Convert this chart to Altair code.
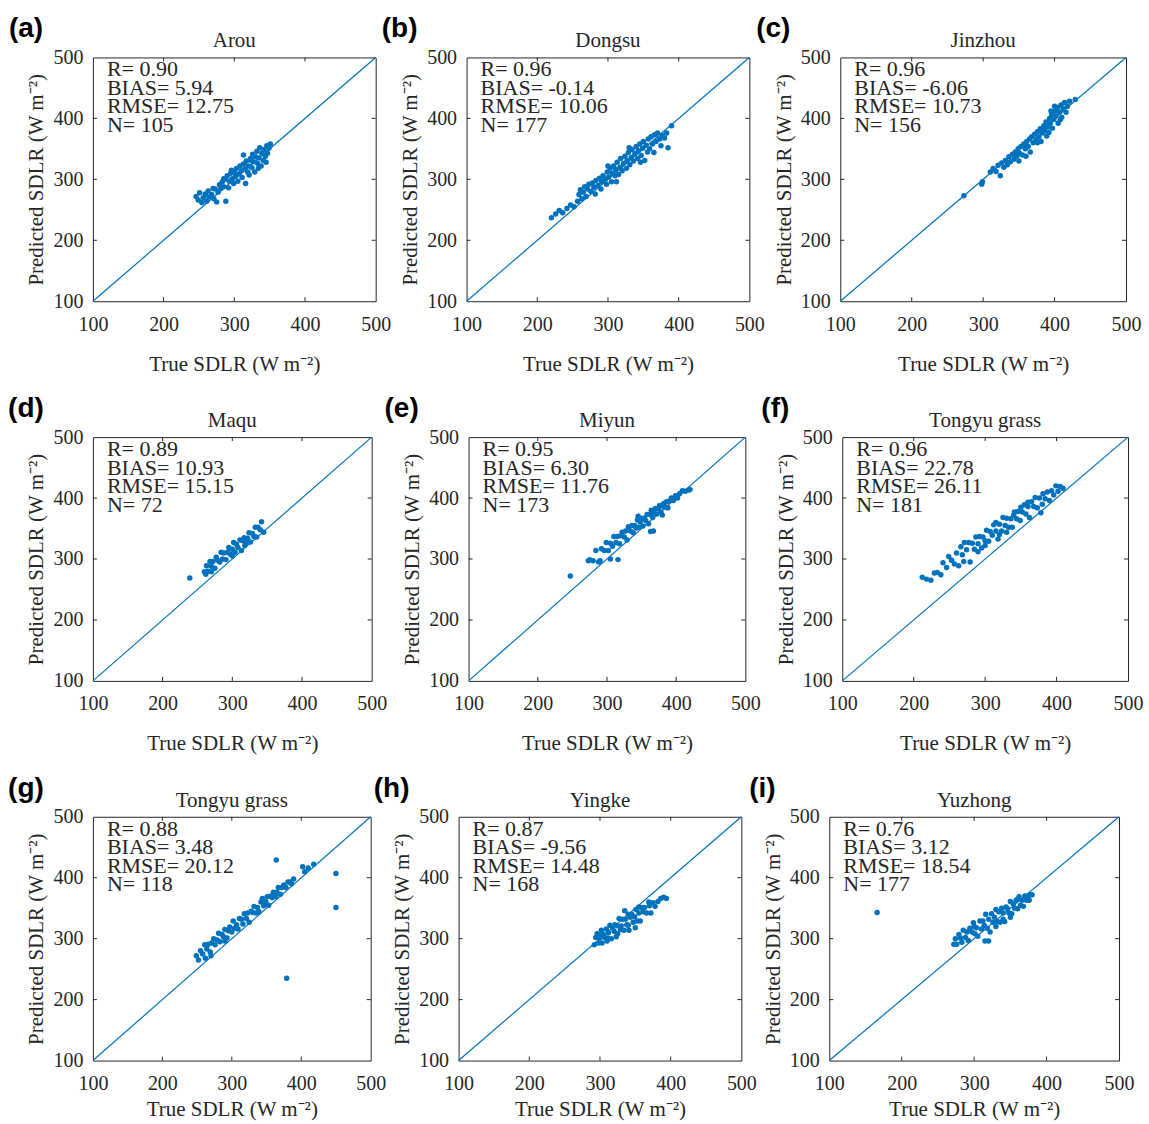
import altair as alt
import pandas as pd

BLUE = "#0072BD"
INK = "#262626"
SERIF = "Liberation Serif"

names = ["Arou", "Dongsu", "Jinzhou", "Maqu", "Miyun", "Tongyu grass",
         "Tongyu grass", "Yingke", "Yuzhong"]
letters = ["(a)", "(b)", "(c)", "(d)", "(e)", "(f)", "(g)", "(h)", "(i)"]
r_vals = ["0.90", "0.96", "0.96", "0.89", "0.95", "0.96", "0.88", "0.87", "0.76"]
bias_vals = ["5.94", "-0.14", "-6.06", "10.93", "6.30", "22.78", "3.48", "-9.56", "3.12"]
rmse_vals = ["12.75", "10.06", "10.73", "15.15", "11.76", "26.11", "20.12", "14.48", "18.54"]
n_vals = ["105", "177", "156", "72", "173", "181", "118", "168", "177"]
ticks = [100, 200, 300, 400, 500]
inner_ticks = [200, 300, 400]
one_to_one = [100, 500]

pts_a = [(246,272),(249,266),(251,278),(254,262),(256,270),(259,276),(261,264),(263,281),(264,271),(268,275),
         (271,268),(273,284),(275,263),(277,279),(279,291),(281,285),(283,296),(285,288),(288,264),(287,300),
         (290,306),(292,286),(293,297),(295,310),(297,301),(299,293),(300,312),(302,305),(303,318),(305,297),
         (307,309),(308,322),(310,314),(311,303),(313,325),(315,317),(316,293),(317,330),(319,312),(320,322),
         (321,307),(323,334),(325,319),(326,341),(327,329),(329,312),(330,337),(332,346),(333,326),(335,335),
         (336,352),(338,322),(339,343),(341,331),(342,349),(344,338),(346,355),(347,343),(349,351),(351,358),
         (334,318),(324,331),(313,340),(296,315),(285,301),(270,285),(345,328)]
pts_b = [(220,237),(226,243),(231,249),(236,245),(242,252),(247,258),(252,255),(257,264),(259,275),(261,283),
         (263,268),(265,279),(267,288),(269,272),(271,284),(273,292),(276,280),(278,294),(280,287),(282,276),
         (283,298),(286,290),(288,302),(290,284),(291,296),(293,306),(296,300),(298,292),(299,312),(301,304),
         (303,318),(305,296),(306,310),(308,322),(310,306),(311,316),(313,328),(315,308),(317,320),(318,334),
         (320,314),(322,326),(324,338),(326,318),(327,331),(329,344),(331,324),(333,336),(334,349),(336,330),
         (338,342),(340,354),(342,334),(343,347),(345,358),(347,339),(349,351),(350,362),(352,331),(354,356),
         (356,345),(357,366),(359,350),(361,370),(363,358),(365,344),(366,373),(368,362),(370,376),(373,366),
         (375,355),(377,372),(380,368),(383,376),(385,352),(390,388),(300,322),(312,296),(330,352),(346,328)]
pts_c = [(273,273),(298,292),(299,296),(310,312),(314,318),(318,313),(321,323),(324,306),(326,327),(329,320),
         (331,331),(334,324),(336,337),(338,329),(341,341),(343,333),(345,345),(347,338),(349,350),(351,343),
         (353,354),(355,340),(357,358),(359,350),(361,362),(363,354),(365,366),(366,345),(368,370),(370,360),
         (372,374),(374,365),(376,378),(378,370),(380,383),(381,362),(383,376),(385,388),(386,380),(388,394),
         (389,371),(391,386),(393,400),(394,392),(396,406),(397,384),(399,398),(401,412),(402,404),(404,418),
         (405,392),(407,410),(409,422),(410,402),(412,416),(414,426),(416,410),(418,420),(421,428),(429,431),
         (395,412),(400,420),(408,398),(392,377),(360,338),(376,360),(350,330)]
pts_d = [(239,269),(260,279),(263,289),(265,280),(268,296),(270,288),(272,296),(275,285),(277,303),(279,298),
         (282,295),(284,311),(286,300),(288,310),(291,299),(293,311),(295,319),(297,308),(300,316),(302,327),
         (304,311),(306,324),(308,319),(311,331),(313,314),(315,330),(317,335),(320,327),(322,334),(324,343),
         (326,328),(329,342),(331,337),(333,352),(335,336),(337,352),(340,348),(342,361),(345,344),(262,275),
         (270,279),(300,305),(318,322)]
pts_e = [(247,272),(273,297),(280,297),(284,314),(288,295),(292,317),(296,314),(299,327),(302,314),(305,326),
         (308,321),(310,337),(313,327),(315,337),(318,325),(320,338),(322,344),(325,336),(327,346),(329,331),
         (331,353),(334,346),(336,355),(338,343),(340,355),(342,351),(344,364),(346,352),(348,361),(350,367),
         (352,354),(354,367),(356,363),(358,373),(360,358),(362,373),(364,380),(366,368),(368,376),(370,383),
         (372,374),(374,383),(376,388),(378,377),(380,387),(382,391),(384,385),(386,394),(388,384),(390,395),
         (393,400),(396,396),(399,404),(402,400),(405,407),(409,412),(413,411),(418,413),(363,345),(367,346),
         (380,372),(345,370),(275,299),(290,297),(305,300),(316,299),(420,414)]
pts_f = [(212,270),(218,267),(224,265),(229,277),(233,278),(238,274),(241,294),(246,286),(249,304),(253,298),
         (257,292),(260,310),(263,289),(266,320),(268,307),(271,327),(274,315),(277,327),(279,295),(282,326),
         (285,316),(287,336),(290,325),(292,337),(295,318),(297,336),(300,330),(302,347),(305,329),(307,345),
         (310,339),(312,356),(315,346),(318,333),(320,357),(323,346),(325,368),(328,355),(330,367),(333,352),
         (336,366),(338,352),(341,377),(344,366),(346,378),(349,363),(352,377),(355,389),(357,374),(360,386),
         (362,368),(365,394),(368,386),(370,401),(373,384),(376,400),(378,376),(381,407),(384,399),(387,410),
         (390,396),(393,412),(396,405),(399,420),(402,411),(405,419),(409,416),(300,322),(320,340),(340,372),
         (360,393),(380,390),(290,312),(330,344),(350,385),(270,296),(315,360)]
pts_g = [(249,272),(252,265),(255,280),(258,275),(261,290),(264,283),(266,291),(269,278),(271,293),(274,300),
         (276,290),(279,298),(281,309),(283,295),(286,307),(288,303),(290,315),(293,301),(295,313),(297,319),
         (300,311),(302,329),(304,317),(307,323),(309,316),(311,333),(314,332),(316,324),(318,341),(321,333),
         (323,342),(325,327),(328,345),(330,343),(332,353),(335,342),(337,351),(339,344),(342,360),(344,366),
         (346,354),(349,361),(351,369),(353,355),(356,370),(358,367),(360,376),(363,369),(365,376),(367,384),
         (370,373),(372,384),(375,388),(378,384),(381,393),(384,393),(386,390),(389,398),(402,418),(405,410),
         (410,416),(418,422),(364,429),(450,407),(450,351),(379,235),(262,268),(290,296),(270,272)]
pts_h = [(292,290),(294,302),(296,308),(298,293),(300,301),(302,314),(303,293),(305,307),(307,302),(309,316),
         (311,301),(312,310),(314,322),(316,300),(318,318),(320,312),(321,323),(323,303),(325,321),(327,333),
         (329,315),(330,321),(332,332),(334,314),(336,332),(338,323),(340,340),(341,314),(343,335),(345,340),
         (347,327),(349,336),(351,348),(353,329),(355,342),(357,329),(359,351),(361,344),(363,351),(366,342),
         (369,360),(372,342),(375,359),(378,353),(382,361),(386,366),(390,368),(394,366),(310,296),(325,308),
         (340,322),(355,352),(370,354),(300,306),(350,318),(335,346)]
pts_i = [(166,343),(272,291),(274,300),(276,291),(279,307),(281,301),(283,294),(285,314),(288,302),(290,311),
         (292,297),(294,317),(297,311),(299,326),(301,308),(303,318),(305,304),(308,329),(310,316),(312,329),
         (314,322),(316,340),(318,317),(320,332),(322,311),(324,341),(326,327),(328,335),(330,348),(332,328),
         (334,344),(336,327),(338,350),(340,342),(342,328),(344,352),(346,349),(348,342),(350,361),(352,341),
         (354,357),(356,350),(358,363),(360,349),(362,369),(364,355),(366,363),(368,353),(370,370),(372,363),
         (374,370),(376,363),(378,372),(380,372),(315,296),(320,296),(340,332),(360,365),(300,320),(330,320),
         (350,335)]

all_pts = [pts_a, pts_b, pts_c, pts_d, pts_e, pts_f, pts_g, pts_h, pts_i]

XT = "True SDLR (W m\u207b\u00b2)"
YT = "Predicted SDLR (W m\u207b\u00b2)"


def panel(i, w, h, xtitle_pad):
    df = pd.DataFrame(all_pts[i], columns=["true", "pred"])
    xs = alt.Scale(domain=[100, 500], nice=False, zero=False)
    ys = alt.Scale(domain=[100, 500], nice=False, zero=False)
    xax = alt.Axis(values=ticks, title=XT, labelPadding=13, titlePadding=xtitle_pad,
                   labelFlush=False)
    yax = alt.Axis(values=ticks, title=YT, labelPadding=10, titlePadding=6,
                   labelFlush=False)
    line = alt.Chart(pd.DataFrame({"v": one_to_one})).mark_line(
        color=BLUE, strokeWidth=1.2).encode(
        x=alt.X("v:Q", scale=xs, axis=xax), y=alt.Y("v:Q", scale=ys, axis=yax))
    dots = alt.Chart(df).mark_circle(size=30, color=BLUE, opacity=1).encode(
        x=alt.X("true:Q", scale=xs, axis=xax), y=alt.Y("pred:Q", scale=ys, axis=yax))
    tdf = pd.DataFrame({"t": inner_ticks})
    tb = alt.Chart(tdf).mark_rule(color=INK, strokeWidth=1).encode(
        x=alt.X("t:Q", scale=xs, axis=xax), y=alt.value(h), y2=alt.value(h - 4))
    tt = alt.Chart(tdf).mark_rule(color=INK, strokeWidth=1).encode(
        x=alt.X("t:Q", scale=xs, axis=xax), y=alt.value(0), y2=alt.value(4))
    tl = alt.Chart(tdf).mark_rule(color=INK, strokeWidth=1).encode(
        y=alt.Y("t:Q", scale=ys, axis=yax), x=alt.value(0), x2=alt.value(4))
    tr = alt.Chart(tdf).mark_rule(color=INK, strokeWidth=1).encode(
        y=alt.Y("t:Q", scale=ys, axis=yax), x=alt.value(w), x2=alt.value(w - 4))
    one = pd.DataFrame({"k": [0]})
    stats = alt.Chart(one).mark_text(
        align="left", baseline="top", font=SERIF, fontSize=22, lineHeight=18.5,
        color=INK).encode(
        x=alt.value(14), y=alt.value(2),
        text=alt.value([f"R= {r_vals[i]}", f"BIAS= {bias_vals[i]}",
                        f"RMSE= {rmse_vals[i]}", f"N= {n_vals[i]}"]))
    ttl = alt.Chart(one).mark_text(
        align="center", baseline="alphabetic", font=SERIF, fontSize=21,
        color=INK).encode(
        x=alt.value(w / 2), y=alt.value(-10), text=alt.value(names[i]))
    lab = alt.Chart(one).mark_text(
        align="center", baseline="middle", font="Liberation Sans", fontWeight="bold",
        fontSize=28, color="black").encode(
        x=alt.value(-67), y=alt.value(-28), text=alt.value(letters[i]))
    return alt.layer(line, dots, tb, tt, tl, tr, stats, ttl, lab).properties(
        width=w, height=h)


H = 244
widths = [283, 283, 286, 279, 277, 286, 278, 283, 290]
row_spacing = [91, 97, 88]
rows = []
for r in range(3):
    tpad = 19 if r < 2 else 5
    rows.append(alt.hconcat(
        *[panel(3 * r + c, widths[3 * r + c], H, tpad) for c in range(3)],
        spacing=row_spacing[r], bounds="flush"
    ).resolve_scale(x="independent", y="independent"))

chart = alt.vconcat(*rows, spacing=19).resolve_scale(
    x="independent", y="independent"
).properties(
    padding={"left": 7, "top": 14, "right": 5, "bottom": 2},
    background="white"
).configure_view(
    stroke=INK, strokeWidth=1
).configure_axis(
    grid=False, domain=False, ticks=False,
    labelFont=SERIF, labelFontSize=20, labelColor=INK,
    titleFont=SERIF, titleFontSize=21, titleFontWeight="normal", titleColor=INK
)

chart.save("out.html", embed_options={"renderer": "svg", "actions": False})
